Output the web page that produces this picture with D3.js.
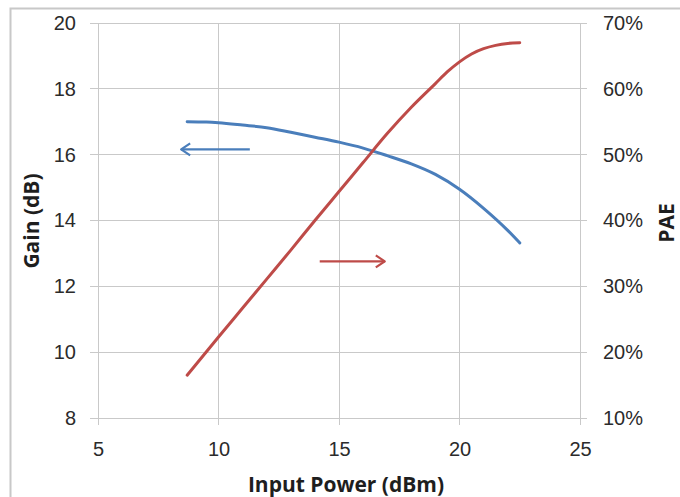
<!doctype html>
<html>
<head>
<meta charset="utf-8"/>
<style>
    html, body { margin: 0; padding: 0; background: #fff; }
    svg { display: block; font-family: 'Lato', 'Open Sans', sans-serif; }
    .grid line { stroke: #c9c9c9; stroke-width: 1; shape-rendering: crispEdges; }
    .axis path, .axis line { stroke: #b5b5b5; shape-rendering: crispEdges; }
    .axis text { fill: #2b2b2b; font-size: 20px; }
    .title { fill: #1e1e1e; font-size: 21px; font-weight: bold; font-family: 'Open Sans', sans-serif; }
</style>
<script src="https://cdn.jsdelivr.net/npm/d3@7"></script>
</head>
<body>
<svg width="680" height="497"></svg>
<script>
    // Input power (dBm) and gain (dB), left axis
    var gainPin = [8.7, 9.5, 10, 11, 12, 13, 14, 15, 16, 17, 18, 19, 20, 21, 22, 22.5];
    var gain    = [17.0, 16.99, 16.97, 16.9, 16.82, 16.68, 16.53, 16.38, 16.2, 15.97, 15.72, 15.4, 14.95, 14.37, 13.7, 13.32];

    // Input power (dBm) and PAE (fraction), right axis
    var paePin = [8.7, 10, 11, 12, 13, 14, 15, 16, 17, 18, 19, 19.5, 20, 20.5, 21, 21.5, 22, 22.5];
    var pae    = [0.165, 0.223, 0.267, 0.311, 0.355, 0.40, 0.444, 0.488, 0.532, 0.572, 0.608, 0.626, 0.641, 0.653, 0.661, 0.666, 0.669, 0.670];

    var xTicks = [5, 10, 15, 20, 25];
    var gainTicks = [8, 10, 12, 14, 16, 18, 20];
    var paeTicks = [0.1, 0.2, 0.3, 0.4, 0.5, 0.6, 0.7];

    // annotation arrows, in data units
    var gainArrow = {from: 11.3, to: 8.45, y: 16.16};
    var paeArrow = {from: 14.2, to: 16.9, y: 0.338};

    var BLUE = "#4a7ebb", RED = "#be4b48";

    var svg = d3.select("svg");
    var margin = {left: 98, right: 100, top: 23, bottom: 79};
    var width = 680, height = 497;

    var x = d3.scaleLinear().domain([5, 25]).range([margin.left, width - margin.right]);
    var yL = d3.scaleLinear().domain([8, 20]).range([height - margin.bottom, margin.top]);
    var yR = d3.scaleLinear().domain([0.1, 0.7]).range([height - margin.bottom, margin.top]);

    // outer frame
    svg.append("rect")
        .attr("x", 10.5).attr("y", 8.5)
        .attr("width", 700).attr("height", 520)
        .attr("fill", "none").attr("stroke", "#c8c8c8").attr("stroke-width", 2);

    // gridlines
    var grid = svg.append("g").attr("class", "grid");
    grid.selectAll(".h").data(gainTicks).enter().append("line")
        .attr("x1", x(5) - 8).attr("x2", x(25) + 7)
        .attr("y1", function(d) { return yL(d); }).attr("y2", function(d) { return yL(d); });
    grid.selectAll(".v").data(xTicks).enter().append("line")
        .attr("x1", function(d) { return x(d); }).attr("x2", function(d) { return x(d); })
        .attr("y1", yL(20)).attr("y2", yL(8) + 7);

    // axes
    var xAxis = svg.append("g").attr("class", "axis")
        .attr("transform", "translate(0," + yL(8) + ")")
        .call(d3.axisBottom(x).tickValues(xTicks).tickSize(0).tickPadding(24));
    xAxis.select(".domain").remove();

    var leftAxis = svg.append("g").attr("class", "axis")
        .attr("transform", "translate(" + x(5) + ",0)")
        .call(d3.axisLeft(yL).tickValues(gainTicks).tickSize(0).tickPadding(22));
    leftAxis.select(".domain").remove();

    var rightAxis = svg.append("g").attr("class", "axis")
        .attr("transform", "translate(" + x(25) + ",0)")
        .call(d3.axisRight(yR).tickValues(paeTicks).tickFormat(d3.format(".0%")).tickSize(0).tickPadding(23));
    rightAxis.select(".domain").remove();

    svg.selectAll(".axis text").attr("fill", "#2b2b2b");

    // titles
    svg.append("text").attr("class", "title")
        .attr("x", (x(5) + x(25)) / 2 + 7).attr("y", 492)
        .attr("text-anchor", "middle").text("Input Power (dBm)");
    svg.append("text").attr("class", "title")
        .attr("transform", "translate(39," + 221 + ") rotate(-90)")
        .attr("text-anchor", "middle").text("Gain (dB)");
    svg.append("text").attr("class", "title")
        .attr("transform", "translate(674," + 223 + ") rotate(-90)")
        .attr("text-anchor", "middle").text("PAE");

    // series
    var gainLine = d3.line()
        .x(function(d, i) { return x(gainPin[i]); })
        .y(function(d) { return yL(d); })
        .curve(d3.curveMonotoneX);
    var paeLine = d3.line()
        .x(function(d, i) { return x(paePin[i]); })
        .y(function(d) { return yR(d); })
        .curve(d3.curveMonotoneX);

    svg.append("path").attr("d", gainLine(gain))
        .attr("fill", "none").attr("stroke", BLUE).attr("stroke-width", 3).attr("stroke-linecap", "round");
    svg.append("path").attr("d", paeLine(pae))
        .attr("fill", "none").attr("stroke", RED).attr("stroke-width", 3).attr("stroke-linecap", "round");

    // arrows
    function arrow(x1, x2, y, colour) {
        var dir = x2 > x1 ? 1 : -1;
        svg.append("line")
            .attr("x1", x1).attr("x2", x2).attr("y1", y).attr("y2", y)
            .attr("stroke", colour).attr("stroke-width", 2.2);
        svg.append("path")
            .attr("d", "M" + (x2 - dir * 9) + "," + (y - 6) + " L" + x2 + "," + y + " L" + (x2 - dir * 9) + "," + (y + 6))
            .attr("fill", "none").attr("stroke", colour).attr("stroke-width", 2.2).attr("stroke-linejoin", "round");
    }
    arrow(x(gainArrow.from), x(gainArrow.to), yL(gainArrow.y), BLUE);
    arrow(x(paeArrow.from), x(paeArrow.to), yR(paeArrow.y), RED);
</script>
</body>
</html>
